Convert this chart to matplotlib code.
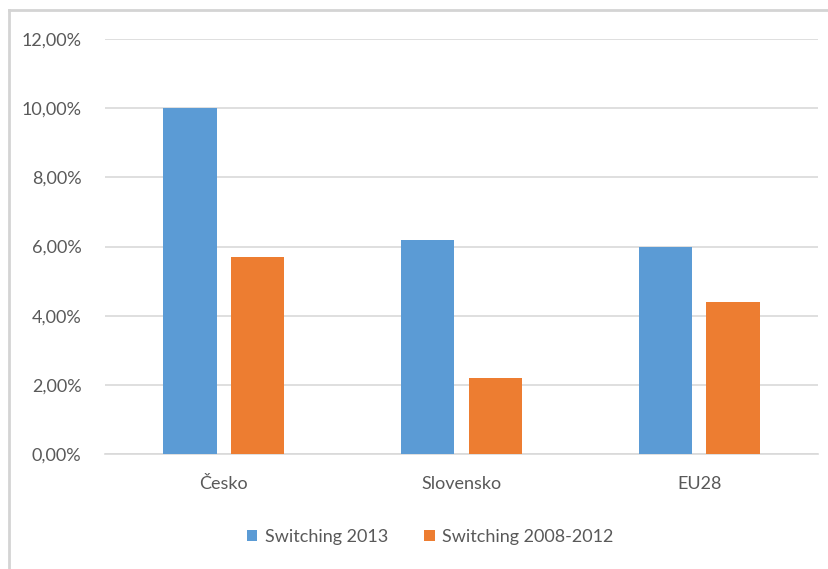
import matplotlib
matplotlib.use("Agg")
import matplotlib.pyplot as plt
from matplotlib.lines import Line2D
import numpy as np

categories = ["Česko", "Slovensko", "EU28"]
series_names = ["Switching 2013", "Switching 2008-2012"]
switching_2013 = [0.100, 0.062, 0.060]
switching_2008_2012 = [0.057, 0.022, 0.044]
yticks = [0.0, 0.02, 0.04, 0.06, 0.08, 0.10, 0.12]

blue = "#5B9BD5"
orange = "#ED7D31"
text_col = "#595959"
grid_col = "#D9D9D9"

plt.rcParams['font.family'] = ['Lato', 'DejaVu Sans']

fig = plt.figure(figsize=(8.29, 5.69), dpi=100)
ax = fig.add_axes([105/829, 1-454/569, (818-105)/829, (454-39)/569])

x = np.arange(len(categories))
w = 0.225
off = 0.142
ax.bar(x - off, switching_2013, width=w, color=blue, label=series_names[0], zorder=3)
ax.bar(x + off, switching_2008_2012, width=w, color=orange, label=series_names[1], zorder=3)

ax.set_xlim(-0.5, len(categories) - 0.5)
ax.set_ylim(0, 0.12)
ax.set_yticks(yticks)
ax.set_yticklabels([f"{v*100:.2f}%".replace(".", ",") for v in yticks])
ax.set_xticks(x)
ax.set_xticklabels(categories)
ax.yaxis.grid(True, color=grid_col, linewidth=1.2, zorder=0)
for s in ["top", "right", "left"]:
    ax.spines[s].set_visible(False)
ax.spines["bottom"].set_color(grid_col)
ax.spines["bottom"].set_linewidth(1.2)
ax.tick_params(axis="y", length=0, pad=17, labelsize=13, labelcolor=text_col)
ax.tick_params(axis="x", length=0, pad=16, labelsize=13, labelcolor=text_col)

leg = fig.legend(loc="center", bbox_to_anchor=(430/829, 1-537/569), ncol=2, frameon=False,
                 fontsize=13, labelcolor=text_col, handlelength=0.6, handleheight=0.6,
                 handletextpad=0.4, columnspacing=2.0)

# outer frame (cropped chart border)
fig.add_artist(Line2D([9/829, 9/829], [0, 1-10/569], color="#D4D4D4", linewidth=2, transform=fig.transFigure))
fig.add_artist(Line2D([9/829, 1], [1-10/569, 1-10/569], color="#D4D4D4", linewidth=2, transform=fig.transFigure))

fig.savefig("out.png", dpi=100)
